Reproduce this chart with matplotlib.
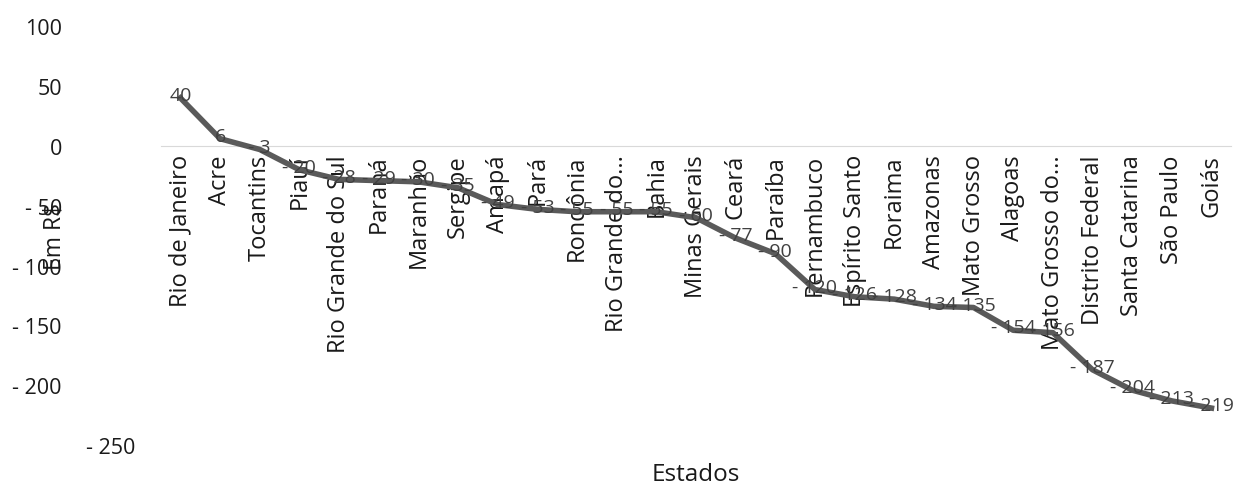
import matplotlib.pyplot as plt
import matplotlib.transforms as mtransforms

# Dados
estados = ['Rio de Janeiro', 'Acre', 'Tocantins', 'Piauí', 'Rio Grande do Sul', 'Paraná',
           'Maranhão', 'Sergipe', 'Amapá', 'Pará', 'Rondônia', 'Rio Grande do...', 'Bahia',
           'Minas Gerais', 'Ceará', 'Paraíba', 'Pernambuco', 'Espírito Santo', 'Roraima',
           'Amazonas', 'Mato Grosso', 'Alagoas', 'Mato Grosso do...', 'Distrito Federal',
           'Santa Catarina', 'São Paulo', 'Goiás']
valores = [40, 6, -3, -20, -28, -29, -30, -35, -49, -53, -55, -55, -55, -60, -77, -90,
           -120, -126, -128, -134, -135, -154, -156, -187, -204, -213, -219]
y_ticks = [100, 50, 0, -50, -100, -150, -200, -250]

plt.rcParams['font.family'] = ['Open Sans', 'DejaVu Sans']

fig = plt.figure(figsize=(12.45, 4.85), dpi=100)
ax = fig.add_axes([0.129, 0.08, 0.86, 0.864])

x = list(range(len(estados)))
ax.plot(x, valores, color='#5a5a5a', linewidth=4, solid_joinstyle='round', zorder=3)

# rótulos de dados
for xi, v in zip(x, valores):
    txt = str(v) if v >= 0 else '- ' + str(abs(v))
    ax.annotate(txt, (xi, v), xytext=(0, 2), textcoords='offset points',
                ha='center', va='center', fontsize=14, color='#404040', zorder=4)

ax.set_xlim(-0.5, len(estados) - 0.5)
ax.set_ylim(-250, 100)

for s in ['top', 'right', 'left']:
    ax.spines[s].set_visible(False)
ax.spines['bottom'].set_position(('data', 0))
ax.spines['bottom'].set_color('#d9d9d9')

ax.set_xticks(x)
ax.set_xticklabels(estados, rotation=90, fontsize=17, color='#1a1a1a')
ax.set_yticks(y_ticks)
ax.set_yticklabels([str(t) if t >= 0 else '- ' + str(abs(t)) for t in y_ticks],
                   fontsize=15.5, color='#1a1a1a')
ax.tick_params(axis='both', length=0)
ax.tick_params(axis='x', pad=6)
ax.tick_params(axis='y', pad=71)

# o rótulo -250 aparece deslocado para a direita
lbl = ax.get_yticklabels()[-1]
lbl.set_transform(lbl.get_transform() + mtransforms.ScaledTranslation(0.73, 0, fig.dpi_scale_trans))

ax.set_ylabel('Em R$', fontsize=16.5, color='#1a1a1a')
ax.yaxis.set_label_coords(-0.088, 0.50)
ax.set_xlabel('Estados', fontsize=17.5, color='#1a1a1a')
ax.xaxis.set_label_coords(0.5, -0.04)

fig.savefig('out.png', dpi=100)
